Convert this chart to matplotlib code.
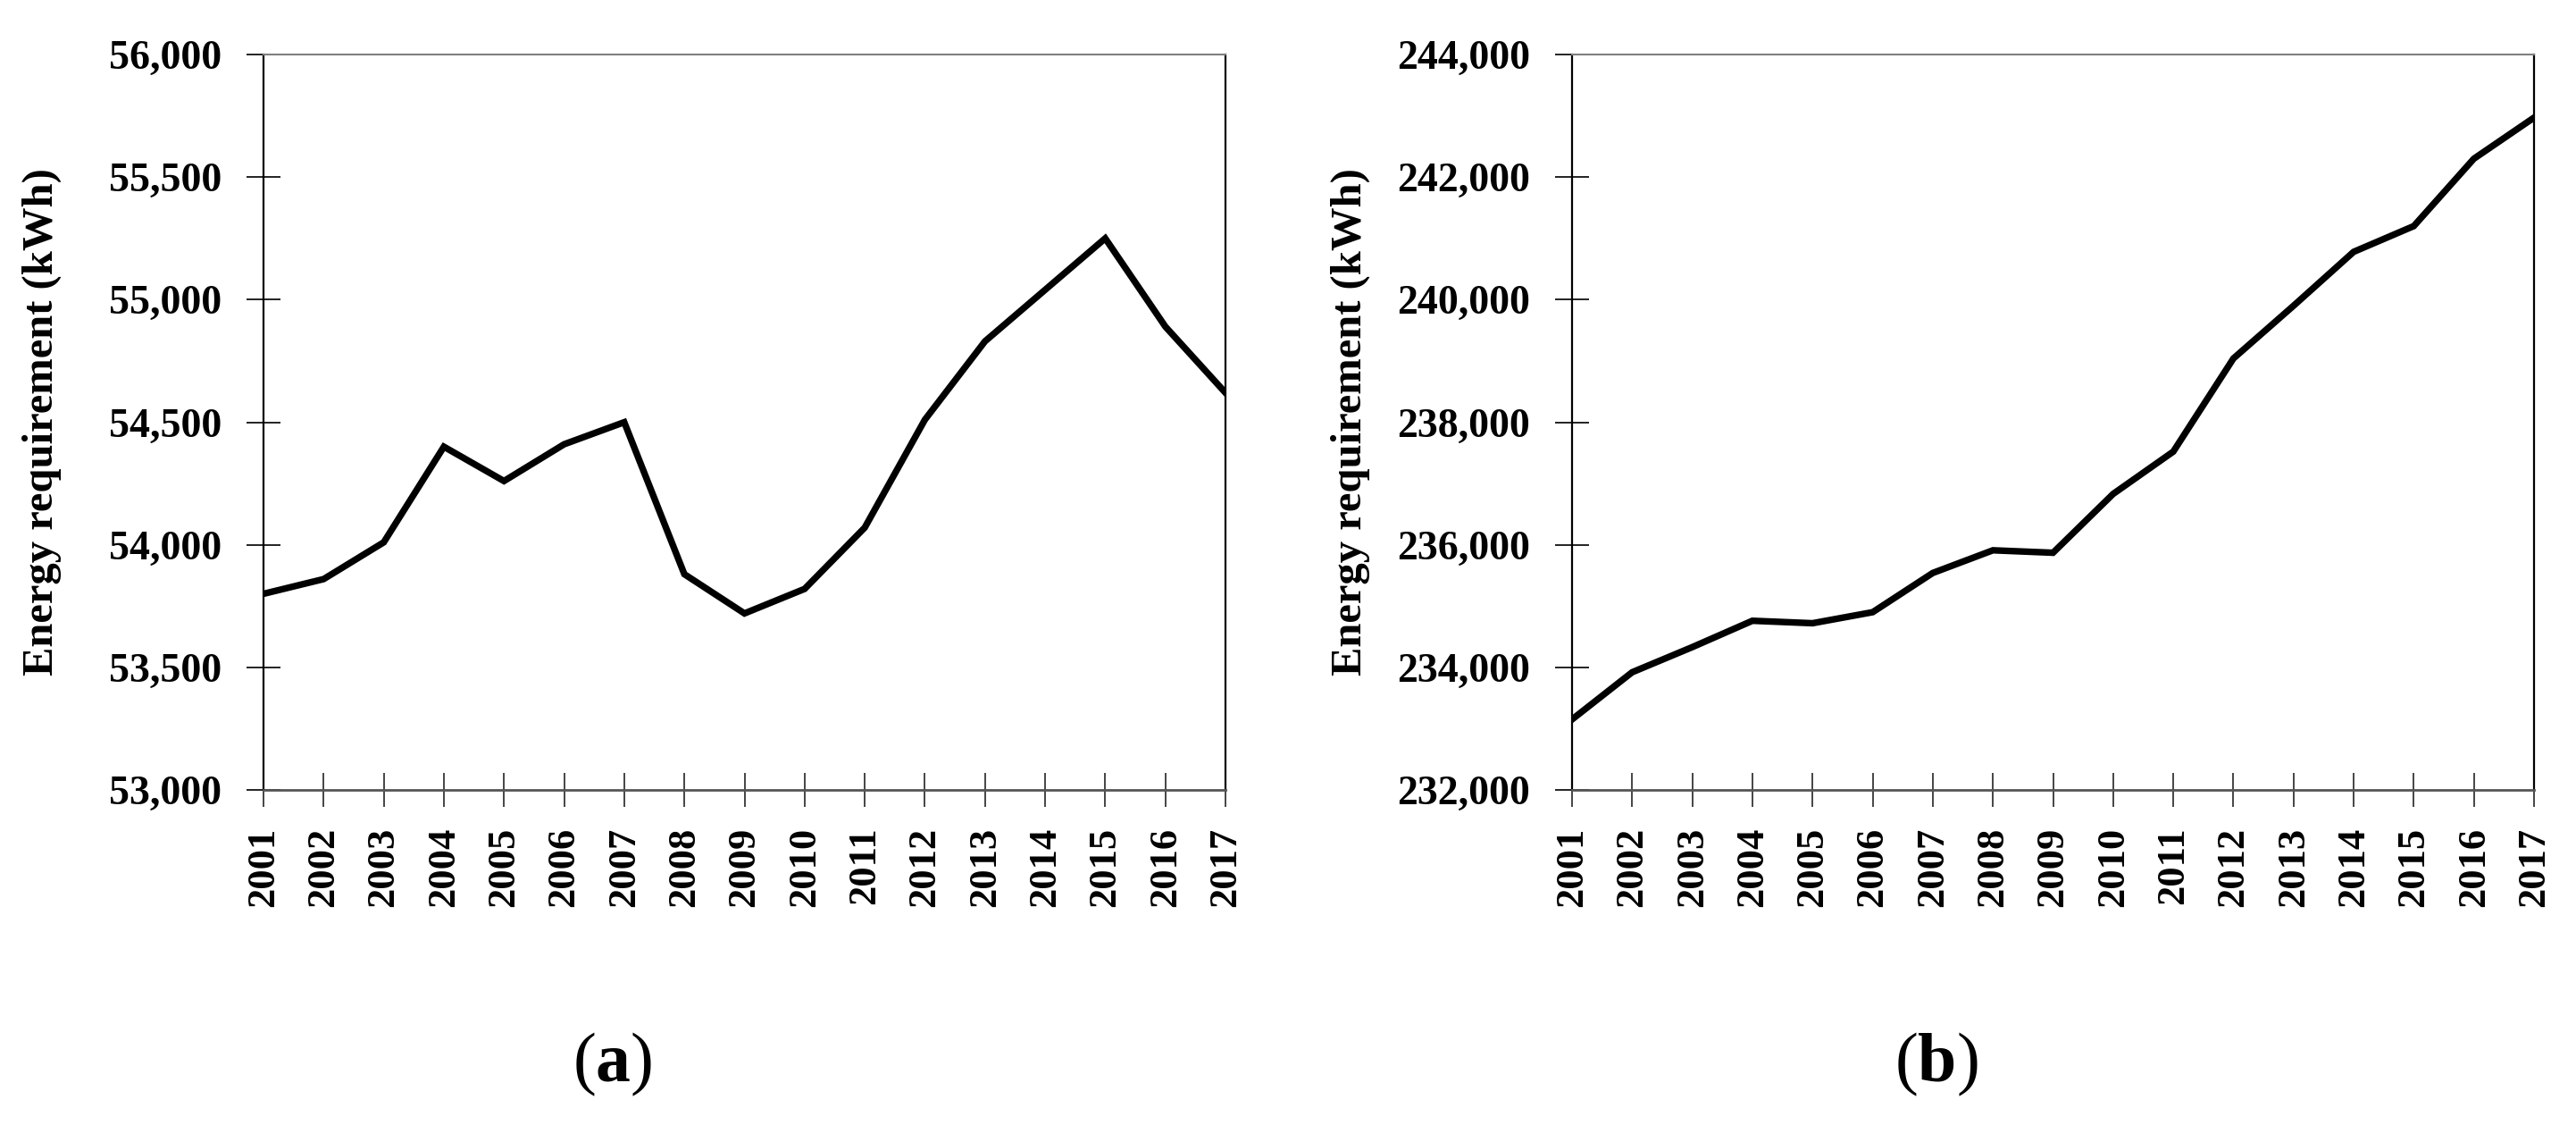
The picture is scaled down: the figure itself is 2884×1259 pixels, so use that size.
import matplotlib
matplotlib.use('Agg')
import matplotlib.pyplot as plt
from matplotlib.ticker import FuncFormatter

# Energy requirement per year
years = list(range(2001, 2018))
energy_a = [53800, 53860, 54010, 54400, 54260, 54410, 54500, 53880, 53720,
            53820, 54070, 54510, 54830, 55040, 55250, 54890, 54620]
energy_b = [233150, 233920, 234330, 234760, 234720, 234900, 235540, 235910, 235870,
            236830, 237520, 239040, 239900, 240780, 241200, 242300, 242970]

yticks_a = [53000, 53500, 54000, 54500, 55000, 55500, 56000]
yticks_b = [232000, 234000, 236000, 238000, 240000, 242000, 244000]
ylabel = "Energy requirement (kWh)"
captions = ["a", "b"]

plt.rcParams['font.family'] = ['Liberation Serif', 'DejaVu Serif']
plt.rcParams['mathtext.fontset'] = 'custom'
plt.rcParams['mathtext.rm'] = 'Liberation Serif'
plt.rcParams['mathtext.bf'] = 'Liberation Serif:bold'

W, H = 2884, 1259
fig = plt.figure(figsize=(W / 100, H / 100), dpi=100)

ax_w = 1077 / W
ax_h = 823 / H
bottom = 1 - 884 / H
ax_a = fig.add_axes([295 / W, bottom, ax_w, ax_h])
ax_b = fig.add_axes([1760 / W, bottom, ax_w, ax_h])


def style_axes(ax, values, yticks):
    ax.plot(years, values, color='black', linewidth=5.3, solid_joinstyle='miter')
    ax.set_xlim(years[0], years[-1])
    ax.set_ylim(yticks[0], yticks[-1])
    ax.set_xticks(years)
    ax.set_xticklabels([str(y) for y in years], rotation=90,
                       fontsize=32, fontweight='bold')
    ax.set_yticks(yticks)
    ax.yaxis.set_major_formatter(FuncFormatter(lambda v, p: f"{v:,.0f}"))
    for lbl in ax.get_yticklabels():
        lbl.set_fontsize(33)
        lbl.set_fontweight('bold')
    ax.tick_params(axis='x', direction='inout', length=28, width=1.4,
                   color='#444444', pad=16)
    ax.tick_params(axis='y', direction='inout', length=28, width=1.4,
                   color='#222222', pad=20)
    ax.spines['left'].set_color('black')
    ax.spines['left'].set_linewidth(1.6)
    ax.spines['right'].set_color('black')
    ax.spines['right'].set_linewidth(1.6)
    ax.spines['top'].set_color('#808080')
    ax.spines['top'].set_linewidth(1.5)
    ax.spines['bottom'].set_color('#555555')
    ax.spines['bottom'].set_linewidth(2)
    ax.set_ylabel(ylabel, fontsize=35, fontweight='bold')
    ax.yaxis.set_label_coords(-0.21, 0.5)


style_axes(ax_a, energy_a, yticks_a)
style_axes(ax_b, energy_b, yticks_b)

# panel captions
for xpos, letter in zip([686 / W, 2168 / W], captions):
    fig.text(xpos, 1 - 1191 / H, "($\\mathbf{" + letter + "}$)",
             fontsize=56, ha='center', va='center')

fig.savefig('out.png', dpi=100, facecolor='white')
